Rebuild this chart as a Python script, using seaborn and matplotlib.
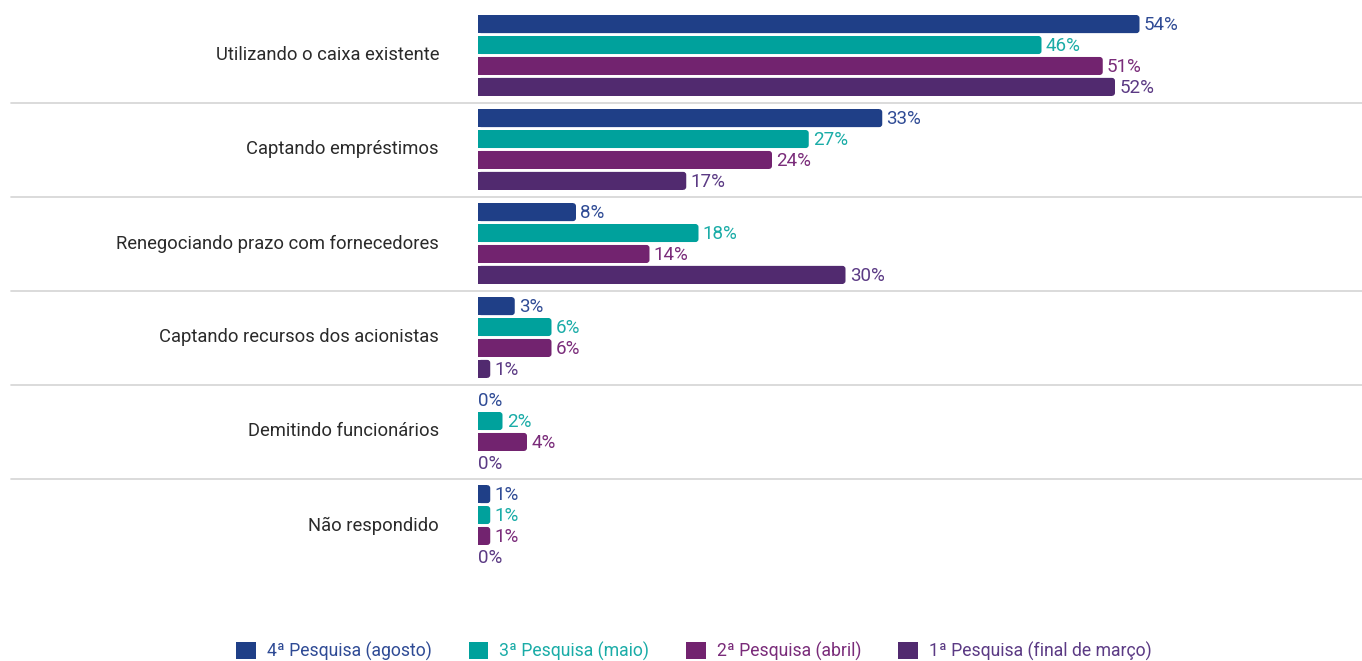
import matplotlib
matplotlib.use("Agg")
import matplotlib.pyplot as plt
from matplotlib.patches import Patch, FancyBboxPatch, Rectangle
import seaborn as sns
import pandas as pd

categories = [
    "Utilizando o caixa existente",
    "Captando empréstimos",
    "Renegociando prazo com fornecedores",
    "Captando recursos dos acionistas",
    "Demitindo funcionários",
    "Não respondido",
]
series = [
    "4ª Pesquisa (agosto)",
    "3ª Pesquisa (maio)",
    "2ª Pesquisa (abril)",
    "1ª Pesquisa (final de março)",
]
legend_labels = [
    "4ª Pesquisa (agosto)",
    "3ª Pesquisa (maio)",
    "2ª Pesquisa (abril)",
    "1ª Pesquisa (final de março)",
]
agosto = [54, 33, 8, 3, 0, 1]
maio = [46, 27, 18, 6, 2, 1]
abril = [51, 24, 14, 6, 4, 1]
marco = [52, 17, 30, 1, 0, 0]

bar_colors = ["#1f3f87", "#00a19c", "#72236f", "#512a6f"]
text_colors = ["#2f4b95", "#1aaca7", "#7a2c7a", "#5b3a84"]

rows = []
for s, vals in zip(series, [agosto, maio, abril, marco]):
    for c, v in zip(categories, vals):
        rows.append({"categoria": c, "pesquisa": s, "valor": v})
df = pd.DataFrame(rows)

sns.set_style("white")
plt.rcParams["font.family"] = ["Roboto", "DejaVu Sans"]

fig = plt.figure(figsize=(13.62, 6.61), dpi=100)
W, H = 1362, 661
top_px, bot_px = 8.5, 572.5
left_px = 478
ax = fig.add_axes([left_px / W, 1 - bot_px / H, 1 - left_px / W, (bot_px - top_px) / H])

sns.barplot(
    data=df, y="categoria", x="valor", hue="pesquisa",
    order=categories, hue_order=series, palette=bar_colors,
    orient="h", width=0.89, gap=0.14, dodge=True, legend=False,
    saturation=1, ax=ax, errorbar=None,
)

px_per_pct = 12.25
ax.set_xlim(0, (W - left_px) / px_per_pct)
ax.set_ylim(len(categories) - 0.5, -0.5)
ax.axis("off")

# round the right-hand end of every bar
x_per_px = 1 / px_per_pct
y_per_px = len(categories) / (bot_px - top_px)
radius_px = 3.0
for container in ax.containers:
    for bar in container:
        w, h = bar.get_width(), bar.get_height()
        x0, y0 = bar.get_x(), bar.get_y()
        color = bar.get_facecolor()
        bar.set_visible(False)
        if w <= 0:
            continue
        r = min(radius_px * x_per_px, w / 2)
        ax.add_patch(FancyBboxPatch(
            (x0, y0), w, h,
            boxstyle=f"round,pad=0,rounding_size={r}",
            mutation_aspect=y_per_px / x_per_px,
            facecolor=color, edgecolor="none", zorder=2))
        ax.add_patch(Rectangle((x0, y0), max(w - r, 0), h,
                               facecolor=color, edgecolor="none", zorder=2))

# value labels
for container, color in zip(ax.containers, text_colors):
    for bar in container:
        w = bar.get_width()
        yc = bar.get_y() + bar.get_height() / 2
        ax.annotate(f"{w:.0f}%", (w, yc), xytext=(3 if w > 0 else 0, -0.7),
                    textcoords="offset points", va="center", ha="left",
                    color=color, fontsize=13.5)

# group separators spanning the full width
for i in range(1, len(categories)):
    y = 1 - (top_px + i * (bot_px - top_px) / len(categories)) / H
    fig.add_artist(plt.Line2D([11 / W, 1], [y, y], color="#d4d4d4", lw=1.2,
                              transform=fig.transFigure))

# category labels
for i, c in enumerate(categories):
    ax.text(-39 * x_per_px, i, c, ha="right", va="center",
            fontsize=13.2, color="#2a2a2a")

handles = [Patch(facecolor=c, edgecolor="none") for c in bar_colors]
leg = fig.legend(handles, legend_labels, loc="center", ncol=4,
                 bbox_to_anchor=(694 / W, 1 - 651 / H), frameon=False,
                 prop={"size": 12.7},
                 handlelength=1.1, handleheight=1.1,
                 handletextpad=0.63, columnspacing=2.1)
for t, c in zip(leg.get_texts(), text_colors):
    t.set_color(c)

fig.savefig("out.png", dpi=100)
